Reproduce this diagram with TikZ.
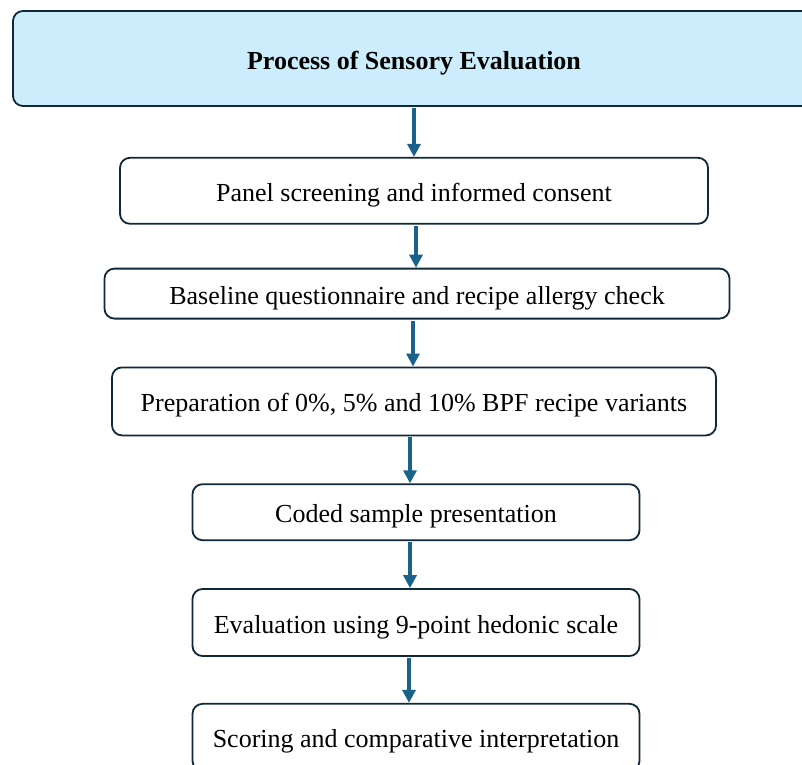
\documentclass[tikz,border=0pt]{standalone}
\usepackage{fontspec}
\setmainfont{Liberation Serif}
\usepackage{xcolor}
\usepackage{tikz}
\usetikzlibrary{arrows.meta, positioning}
\definecolor{edge}{RGB}{16, 40, 56}
\definecolor{headfill}{RGB}{204, 237, 251}
\definecolor{flowblue}{RGB}{26, 98, 138}

\begin{document}
\begin{tikzpicture}[
    x=1pt, y=1pt,
    node distance=47pt,
    block/.style={rectangle, draw=edge, line width=1.8pt, fill=white, rounded corners=10pt, align=center, font=\fontsize{26}{30}\selectfont, text=black, inner sep=0pt, text height=22pt, text depth=1pt},
    arrow/.style={line width=4pt, -{Triangle[width=13pt, length=13pt]}, color=flowblue, shorten <=1pt}
]
\useasboundingbox (0,0) rectangle (802,-764);
\clip (0,0) rectangle (802,-764);

\node[block, fill=headfill, minimum width=802pt, minimum height=95pt, font=\bfseries\fontsize{26}{30}\selectfont] (head) at (414,-58.5) {Process of Sensory Evaluation};
\node[block, below=50pt of head, minimum width=588pt, minimum height=66pt] (screen) {Panel screening and informed consent};
\node[block, below=43pt of screen, xshift=3pt, minimum width=625pt, minimum height=50pt] (baseline) {Baseline questionnaire and recipe allergy check};
\node[block, below=of baseline, xshift=-3pt, minimum width=604pt, minimum height=68pt] (prep) {Preparation of 0\%, 5\% and 10\% BPF recipe variants};
\node[block, below=of prep, xshift=2pt, minimum width=447pt, minimum height=56pt] (coded) {Coded sample presentation};
\node[block, below=of coded, minimum width=447pt, minimum height=67pt] (rating) {Evaluation using 9-point hedonic scale};
\node[block, below=46pt of rating, minimum width=447pt, minimum height=67pt] (scoring) {Scoring and comparative interpretation};

\draw[arrow] (head.south) -- (head.south |- screen.north);
\draw[arrow] ([xshift=2pt]screen.south) -- ([xshift=2pt]screen.south |- baseline.north);
\draw[arrow] ([xshift=-4pt]baseline.south) -- ([xshift=-4pt]baseline.south |- prep.north);
\draw[arrow] ([xshift=-4pt]prep.south) -- ([xshift=-4pt]prep.south |- coded.north);
\draw[arrow] ([xshift=-6pt]coded.south) -- ([xshift=-6pt]coded.south |- rating.north);
\draw[arrow] ([xshift=-7pt]rating.south) -- ([xshift=-7pt]rating.south |- scoring.north);
\end{tikzpicture}
\end{document}
